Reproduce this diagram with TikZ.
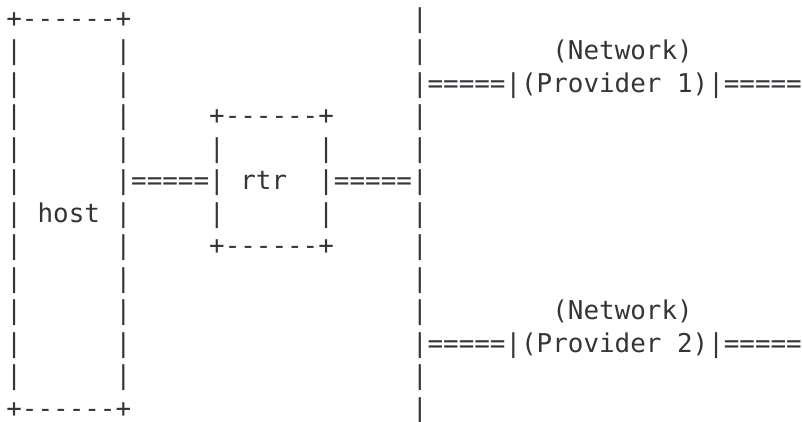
\documentclass[tikz,border=0pt]{standalone}
\usepackage{fontspec}
\usepackage{xcolor}
\newfontfamily\asciifont{DejaVu Sans Mono}
\definecolor{ink}{HTML}{333538}
\tikzset{%
	ascii/.style = {font=\asciifont\fontsize{25.9}{32.5}\selectfont, text=ink, inner sep=0pt, anchor=base west}, % one text cell
}

\begin{document}
\begin{tikzpicture}[x=15.6pt, y=32.5pt]
	\useasboundingbox (-0.397,0.846) rectangle (51.013,-12.108);

	% host
	\node[ascii] (hosttop) at (0,0) {+------+};
	\node[ascii] (hostbot) at (0,-12) {+------+};
	\foreach \r in {1,...,11} {
		\node[ascii] (hostl\r) at (0,-\r) {|};
		\node[ascii] (hostr\r) at (7,-\r) {|};
	}
	\node[ascii] (host) at (2,-6) {host};

	% rtr
	\node[ascii] (rtrtop) at (13,-3) {+------+};
	\node[ascii] (rtrbot) at (13,-7) {+------+};
	\foreach \r in {4,5,6} {
		\node[ascii] (rtrl\r) at (13,-\r) {|};
		\node[ascii] (rtrr\r) at (20,-\r) {|};
	}
	\node[ascii] (rtr) at (15,-5) {rtr};
	\node[ascii] (link1) at (8,-5) {=====};
	\node[ascii] (link2) at (21,-5) {=====};

	% backbone
	\foreach \r in {0,...,12} {
		\node[ascii] (bus\r) at (26,-\r) {|};
	}

	% providers
	\node[ascii] (net1) at (35,-1) {(Network)};
	\node[ascii] (prov1) at (27,-2) {=====|(Provider 1)|=====};
	\node[ascii] (net2) at (35,-9) {(Network)};
	\node[ascii] (prov2) at (27,-10) {=====|(Provider 2)|=====};
\end{tikzpicture}
\end{document}
